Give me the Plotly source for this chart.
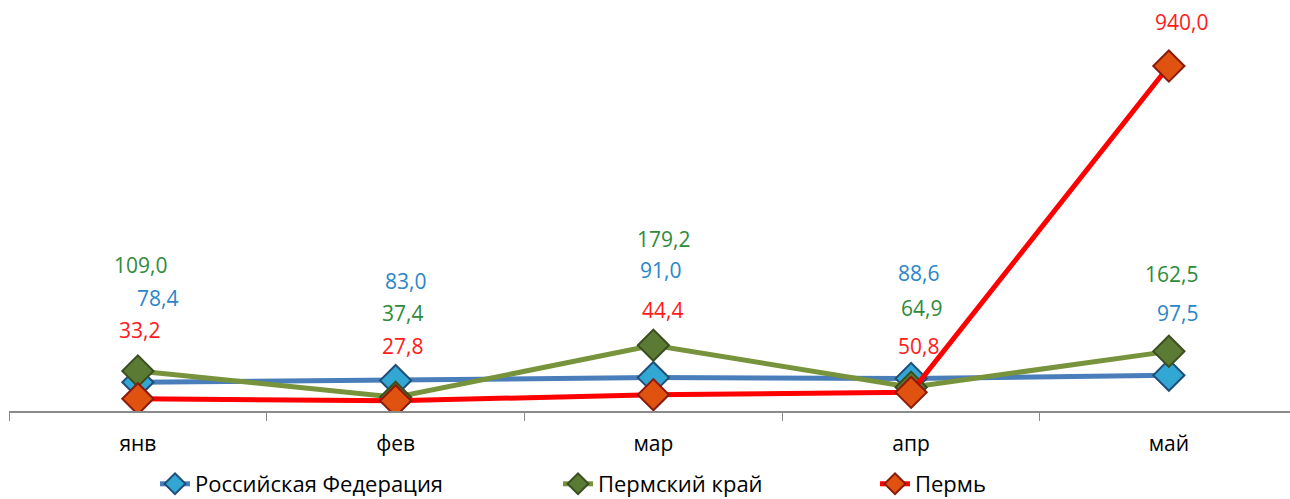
import plotly.graph_objects as go

months = ["янв", "фев", "мар", "апр", "май"]
rf = [78.4, 83.0, 91.0, 88.6, 97.5]
perm_krai = [109.0, 37.4, 179.2, 64.9, 162.5]
perm = [33.2, 27.8, 44.4, 50.8, 940.0]

series = [
    ("Российская Федерация", rf, "#4a7ebb", "#33a7d4", "#1f4e79", "#2a86c8"),
    ("Пермский край", perm_krai, "#77933c", "#5b7a34", "#3a4f20", "#2e8b3a"),
    ("Пермь", perm, "#ff0000", "#e0520f", "#8b1a0a", "#ff1a1a"),
]

# label pixel offsets (dx, dy) per series per month
offsets = {
    "Российская Федерация": [(20, 84), (10, 100), (7, 108), (7, 105), (9, 62)],
    "Пермский край": [(3, 106), (7, 84), (10, 106), (10, 79), (3, 77)],
    "Пермь": [(2, 69), (7, 55), (9, 85), (7, 46), (13, 44)],
}

FONT = "Open Sans"
fig = go.Figure()
annotations = []
for i, (name, vals, lc, mc, mlc, tc) in enumerate(series):
    fig.add_trace(go.Scatter(
        x=months, y=vals, name=name, mode="lines+markers",
        line=dict(color=lc, width=5),
        marker=dict(symbol="diamond", size=24, color=mc,
                    line=dict(color=mlc, width=2)),
        legend="legend" if i == 0 else f"legend{i+1}",
    ))
    for m, v, (dx, dy) in zip(months, vals, offsets[name]):
        annotations.append(dict(
            x=m, y=v, xref="x", yref="y", text=f"{v:.1f}".replace(".", ","),
            showarrow=False, xshift=dx, yshift=dy,
            font=dict(family=FONT, size=21, color=tc),
        ))

leg_y = (499 - 484) / 499
leg_common = dict(orientation="h", yanchor="middle", xanchor="left",
                  xref="container", yref="container", y=leg_y,
                  borderwidth=0, tracegroupgap=0,
                  font=dict(family=FONT, size=22, color="#000000"),
                  bgcolor="rgba(0,0,0,0)")
fig.update_layout(
    width=1290, height=499,
    margin=dict(l=9, r=0, t=44, b=88),
    plot_bgcolor="white", paper_bgcolor="white",
    showlegend=True,
    legend=dict(x=155 / 1290, **leg_common),
    legend2=dict(x=558 / 1290, **leg_common),
    legend3=dict(x=875 / 1290, **leg_common),
    annotations=annotations,
    xaxis=dict(range=[-0.5, 4.47], showgrid=False, showline=True,
               linecolor="#8a8a8a", linewidth=1.5, ticks="outside",
               tickson="boundaries", ticklen=8, tickcolor="#8a8a8a",
               tickfont=dict(family=FONT, size=21, color="#000000"),
               ticklabelstandoff=13, zeroline=False),
    yaxis=dict(range=[0, 1000], visible=False, showgrid=False, zeroline=False),
)
fig.write_html("out.html", config={"displayModeBar": False},
               post_script="document.body.style.margin='0';document.body.style.padding='0';")
